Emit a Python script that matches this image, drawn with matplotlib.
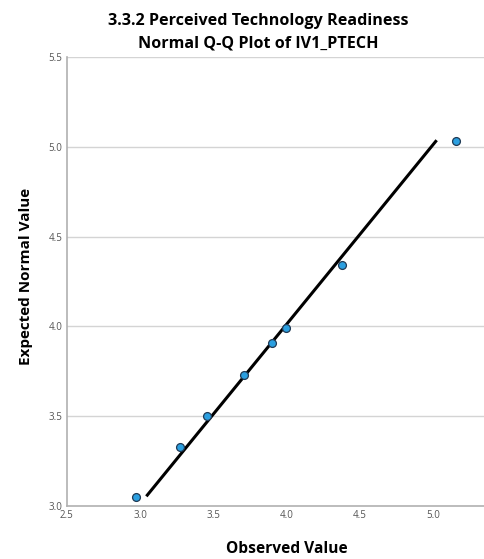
import numpy as np
import matplotlib.pyplot as plt

plt.rcParams['font.family'] = ['Open Sans', 'DejaVu Sans']

observed = [2.97, 3.27, 3.46, 3.71, 3.90, 4.00, 4.38, 5.16]
expected = [3.05, 3.33, 3.50, 3.73, 3.91, 3.99, 4.34, 5.03]
line_x = [3.05, 5.02]
line_y = [3.06, 5.03]
xticks = [2.5, 3.0, 3.5, 4.0, 4.5, 5.0]
yticks = [3.0, 3.5, 4.0, 4.5, 5.0, 5.5]

fig = plt.figure(figsize=(4.84, 5.59), dpi=100)
ax = fig.add_axes([0.138, 0.095, 0.862, 0.803])

for y in yticks[1:]:
    ax.axhline(y, color='#d4d4d4', lw=1, zorder=0)

ax.plot(line_x, line_y, color='black', lw=2.2, zorder=2)
ax.scatter(observed, expected, s=32, color='#2b9fe0', edgecolor='#1f3a55',
           linewidth=0.9, zorder=3)

ax.set_xlim(2.5, 5.35)
ax.set_ylim(3.0, 5.5)
ax.set_xticks(xticks)
ax.set_yticks(yticks)
ax.set_xticklabels([f'{v:.1f}' for v in xticks])
ax.set_yticklabels([f'{v:.1f}' for v in yticks])
ax.tick_params(length=0, labelsize=7, colors='#555555', pad=3)
for side in ['top', 'right']:
    ax.spines[side].set_visible(False)
for side in ['left', 'bottom']:
    ax.spines[side].set_color('#b0b0b0')
    ax.spines[side].set_linewidth(1.2)

ax.set_xlabel('Observed Value', fontsize=11.2, fontweight='bold')
ax.xaxis.set_label_coords(0.527, -0.078)
ax.set_ylabel('Expected Normal Value', fontsize=11, fontweight='bold')
ax.yaxis.set_label_coords(-0.082, 0.512)
fig.suptitle('3.3.2 Perceived Technology Readiness\nNormal Q-Q Plot of IV1_PTECH',
             fontsize=11.6, fontweight='bold', x=0.533, y=0.976, linespacing=1.5)

fig.savefig('out.png', dpi=100)
